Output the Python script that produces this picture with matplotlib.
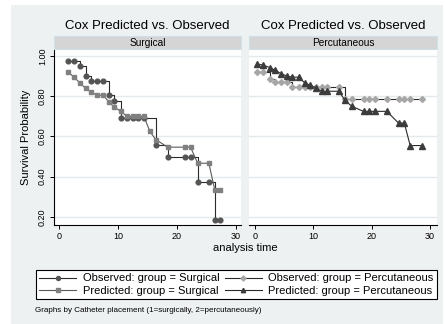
import matplotlib
matplotlib.use("Agg")
import matplotlib.pyplot as plt
from matplotlib.lines import Line2D
from matplotlib.patches import Rectangle

plt.rcParams['font.family'] = ['Liberation Sans', 'DejaVu Sans']

# Surgical group
t_obs_s = [1.5, 2.5, 3.5, 4.5, 5.5, 6.5, 7.5, 8.5, 9.4, 10.5, 11.5, 12.5, 13.4, 14.4,
           16.4, 18.4, 21.4, 22.3, 23.5, 25.4, 26.4, 27.3]
v_obs_s = [0.975, 0.975, 0.95, 0.90, 0.875, 0.875, 0.875, 0.805, 0.775, 0.69, 0.69, 0.69, 0.69, 0.69,
           0.56, 0.50, 0.50, 0.50, 0.375, 0.375, 0.185, 0.185]
t_pre_s = [1.5, 2.5, 3.5, 4.5, 5.5, 6.5, 7.5, 8.5, 9.4, 10.5, 11.5, 12.5, 13.4, 14.4,
           15.4, 16.4, 18.4, 21.4, 22.3, 23.5, 25.4, 26.4, 27.3]
v_pre_s = [0.92, 0.897, 0.867, 0.84, 0.82, 0.805, 0.805, 0.77, 0.745, 0.725, 0.70, 0.70, 0.70, 0.70,
           0.625, 0.585, 0.547, 0.547, 0.547, 0.467, 0.467, 0.335, 0.335]

# Percutaneous group
t_obs_p = [0.4, 1.4, 2.5, 3.4, 4.5, 5.5, 6.4, 7.5, 8.5, 9.4, 10.4, 11.4, 12.4, 14.4,
           15.4, 16.6, 18.6, 19.6, 20.6, 22.6, 24.6, 25.6, 26.6, 28.6]
v_obs_p = [0.92, 0.92, 0.885, 0.872, 0.872, 0.872, 0.845, 0.845, 0.845, 0.845, 0.845, 0.845, 0.845, 0.845,
           0.785, 0.785, 0.785, 0.785, 0.785, 0.785, 0.785, 0.785, 0.785, 0.785]
t_pre_p = [0.4, 1.4, 2.5, 3.4, 4.5, 5.5, 6.4, 7.5, 8.5, 9.4, 10.4, 11.4, 12.4, 14.4,
           15.4, 16.6, 18.6, 19.6, 20.6, 22.6, 24.6, 25.6, 26.6, 28.6]
v_pre_p = [0.96, 0.955, 0.943, 0.93, 0.912, 0.90, 0.895, 0.895, 0.867, 0.855, 0.843, 0.825, 0.825, 0.825,
           0.78, 0.75, 0.725, 0.725, 0.725, 0.725, 0.667, 0.667, 0.555, 0.555]

panel_titles = ["Surgical", "Percutaneous"]
yticks = [0.2, 0.4, 0.6, 0.8, 1.0]
ytick_labels = ["0.20", "0.40", "0.60", "0.80", "1.00"]
xticks = [0, 10, 20, 30]
legend_labels = ["Observed: group = Surgical", "Predicted: group = Surgical",
                 "Observed: group = Percutaneous", "Predicted: group = Percutaneous"]

bg = "#eef1f1"
W, H = 445, 324

fig = plt.figure(figsize=(W / 100, H / 100), dpi=100)
fig.patch.set_facecolor("white")
fig.patches.append(Rectangle((11 / W, 0), (443 - 11) / W, 1 - 5 / H, transform=fig.transFigure,
                             facecolor=bg, edgecolor="none", zorder=-10))

def fx(px):
    return px / W

def fy(py):
    return 1 - py / H

ax_l = fig.add_axes([fx(54), fy(225), fx(241 - 54), (225 - 50) / H])
ax_r = fig.add_axes([fx(249), fy(225), fx(437 - 249), (225 - 50) / H])

styles = {
    "obs_s": dict(marker="o", color="#2a2a2a", mfc="#555555", mec="#555555", ms=3.4),
    "pre_s": dict(marker="s", color="#5a5a5a", mfc="#808080", mec="#808080", ms=3.3),
    "obs_p": dict(marker="D", color="#2a2a2a", mfc="#a6a6a6", mec="#a6a6a6", ms=3.0),
    "pre_p": dict(marker="^", color="#2a2a2a", mfc="#3c3c3c", mec="#3c3c3c", ms=3.7),
}

ax_l.plot(t_obs_s, v_obs_s, drawstyle="steps-post", lw=0.8, **styles["obs_s"])
ax_l.plot(t_pre_s, v_pre_s, lw=0.8, **styles["pre_s"])
ax_r.plot(t_obs_p, v_obs_p, drawstyle="steps-post", lw=0.8, **styles["obs_p"])
ax_r.plot(t_pre_p, v_pre_p, lw=0.8, **styles["pre_p"])

ax_l.set_xlim(-0.85, 30.85)
ax_r.set_xlim(-1.03, 31.2)

for i, ax in enumerate([ax_l, ax_r]):
    ax.set_ylim(0.16, 1.03)
    ax.set_facecolor("white")
    ax.set_yticks(yticks)
    ax.set_xticks(xticks)
    ax.grid(axis="y", color="#e4eaec", lw=1.0)
    ax.set_axisbelow(True)
    for s in ["top", "right"]:
        ax.spines[s].set_visible(False)
    ax.spines["bottom"].set_linewidth(0.8)
    ax.tick_params(axis="x", labelsize=6.5, length=3, width=0.7, pad=2)
    if i == 0:
        ax.set_yticklabels(ytick_labels, rotation=90, va="center", fontsize=6.5)
        ax.tick_params(axis="y", length=3, width=0.7, pad=2)
        ax.spines["left"].set_linewidth(0.8)
        ax.set_ylabel("Survival Probability", fontsize=8, labelpad=5)
    else:
        ax.spines["left"].set_visible(False)
        ax.tick_params(axis="y", left=False, labelleft=False)

# strips and titles
for ax, name, x0, x1 in [(ax_l, panel_titles[0], 54, 241), (ax_r, panel_titles[1], 249, 437)]:
    strip = fig.add_axes([fx(x0), fy(49), fx(x1 - x0), 13 / H])
    strip.set_facecolor("#d5d5d5")
    strip.set_xticks([])
    strip.set_yticks([])
    for s in strip.spines.values():
        s.set_color("#cfe0e8")
        s.set_linewidth(0.8)
    strip.text(0.5, 0.5, name, ha="center", va="center", fontsize=7.3, transform=strip.transAxes)
    fig.text(fx((x0 + x1) / 2), fy(26), "Cox Predicted vs. Observed", ha="center", va="center", fontsize=9.5)

fig.text(fx(245), fy(248), "analysis time", ha="center", va="center", fontsize=8)

handles = []
for key in ["obs_s", "pre_s", "obs_p", "pre_p"]:
    st = dict(styles[key])
    st["ms"] = st["ms"] * 0.85
    handles.append(Line2D([], [], lw=0.8, **st))
leg = fig.legend(handles, legend_labels, ncol=2, loc="lower left",
                 bbox_to_anchor=(fx(36), fy(299), fx(437 - 36), 30 / H), mode="expand",
                 fontsize=8, frameon=True, fancybox=False, edgecolor="black", facecolor="white",
                 framealpha=1, handlelength=3.3, handletextpad=0.6, columnspacing=0.8,
                 labelspacing=0.2, borderpad=0.3, borderaxespad=0)
leg.get_frame().set_linewidth(0.8)

fig.text(fx(35), fy(310), "Graphs by Catheter placement (1=surgically, 2=percutaneously)",
         ha="left", va="center", fontsize=5.8)

fig.savefig("out.png", dpi=100)
